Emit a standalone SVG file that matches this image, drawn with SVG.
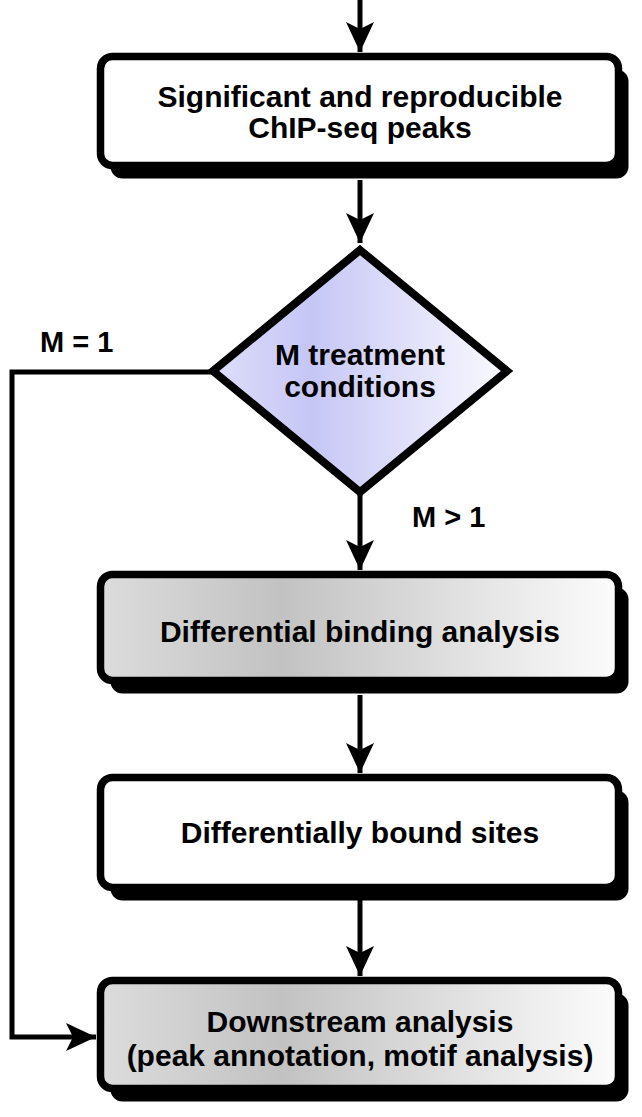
<svg xmlns="http://www.w3.org/2000/svg" width="642" height="1117" viewBox="0 0 642 1117">
<style>
  .box { stroke: #000; stroke-width: 7.5; }
  .shadow { fill: #000; }
  .t { font-family: "Liberation Sans", Arial, sans-serif; font-weight: bold; font-size: 30px; fill: #000; text-anchor: middle; }
  .lbl { font-family: "Liberation Sans", Arial, sans-serif; font-weight: bold; font-size: 29px; fill: #000; }
  .conn { fill: none; stroke: #000; stroke-width: 5; }
</style>
<defs>
  <linearGradient id="gray" x1="0" y1="0" x2="1" y2="0">
    <stop offset="0" stop-color="#dcdcdc"/>
    <stop offset="0.35" stop-color="#c2c2c2"/>
    <stop offset="1" stop-color="#fcfcfc"/>
  </linearGradient>
  <linearGradient id="lav" x1="0" y1="0" x2="1" y2="0">
    <stop offset="0" stop-color="#dedefa"/>
    <stop offset="0.33" stop-color="#c6c6f6"/>
    <stop offset="1" stop-color="#fafaff"/>
  </linearGradient>
  <marker id="arr" markerUnits="userSpaceOnUse" markerWidth="34" markerHeight="32" viewBox="-31 -16 34 32" refX="0" refY="0" orient="auto">
    <path d="M0,0 L-30,-14 L-23,0 L-30,14 Z" fill="#000"/>
  </marker>
</defs>

<g id="connectors">
  <line class="conn" x1="360" y1="0" x2="360" y2="52" marker-end="url(#arr)"/>
  <line class="conn" x1="360" y1="180" x2="360" y2="243" marker-end="url(#arr)"/>
  <line class="conn" x1="360" y1="495" x2="360" y2="570" marker-end="url(#arr)"/>
  <line class="conn" x1="360" y1="695" x2="360" y2="773" marker-end="url(#arr)"/>
  <line class="conn" x1="360" y1="900" x2="360" y2="976" marker-end="url(#arr)"/>
  <polyline class="conn" points="212,372 12,372 12,1037 96,1037" marker-end="url(#arr)"/>
</g>

<g id="label-m1"><text class="lbl" x="40" y="352">M = 1</text></g>
<g id="label-mgt1"><text class="lbl" x="412" y="527">M &gt; 1</text></g>

<g id="node-peaks">
  <rect class="shadow" x="110.5" y="69.5" width="518" height="109" rx="12"/>
  <rect class="box" x="100.5" y="56.5" width="518" height="109" rx="12" fill="#fff"/>
  <text class="t" x="360" y="107">Significant and reproducible</text>
  <text class="t" x="360" y="138">ChIP-seq peaks</text>
</g>

<g id="node-decision">
  <polygon points="360,250 507,371 360,492 213,371" fill="url(#lav)" stroke="#000" stroke-width="8" stroke-linejoin="miter"/>
  <text class="t" x="360" y="365">M treatment</text>
  <text class="t" x="360" y="397">conditions</text>
</g>

<g id="node-diffbind">
  <rect class="shadow" x="110.5" y="587.5" width="518" height="106" rx="12"/>
  <rect class="box" x="100.5" y="574.5" width="518" height="106" rx="12" fill="url(#gray)"/>
  <text class="t" x="360" y="642">Differential binding analysis</text>
</g>

<g id="node-sites">
  <rect class="shadow" x="110.5" y="790.5" width="518" height="110" rx="12"/>
  <rect class="box" x="100.5" y="777.5" width="518" height="110" rx="12" fill="#fff"/>
  <text class="t" x="360" y="843">Differentially bound sites</text>
</g>

<g id="node-downstream">
  <rect class="shadow" x="110.5" y="993.5" width="518" height="108" rx="12"/>
  <rect class="box" x="100.5" y="980.5" width="518" height="108" rx="12" fill="url(#gray)"/>
  <text class="t" x="360" y="1032">Downstream analysis</text>
  <text class="t" x="360" y="1066">(peak annotation, motif analysis)</text>
</g>
</svg>
